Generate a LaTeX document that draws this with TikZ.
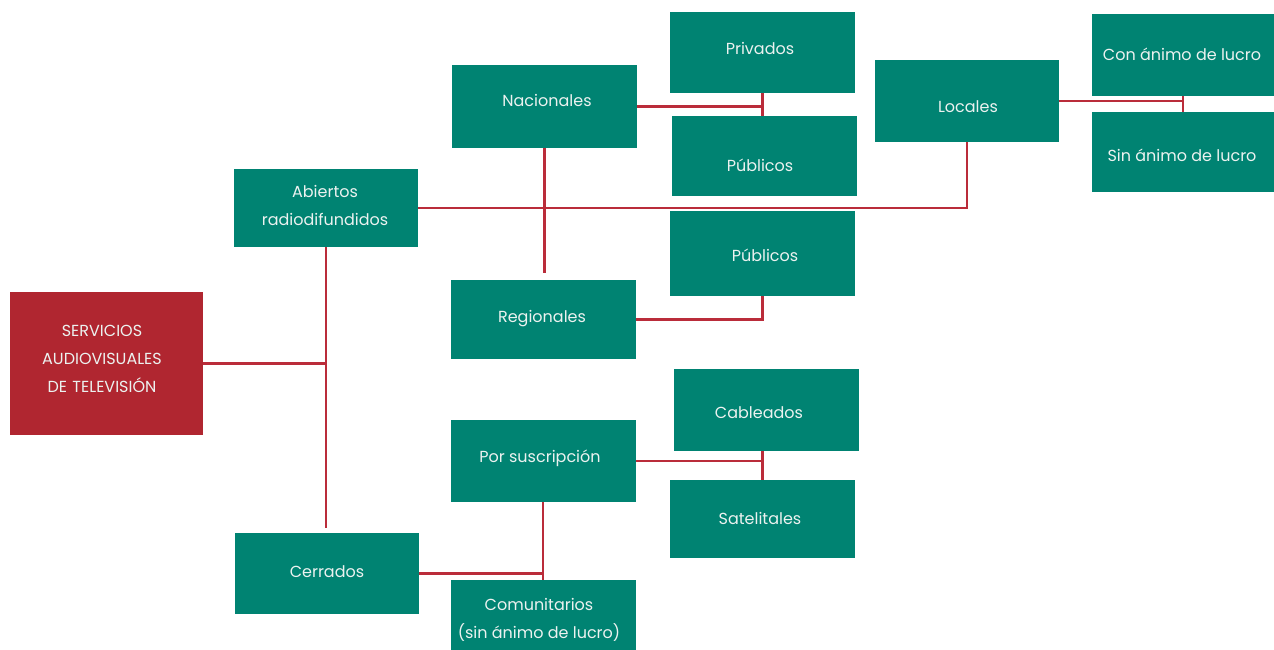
\documentclass[tikz,border=0pt]{standalone}
\usepackage{fontspec}
\setmainfont{Poppins}
\usetikzlibrary{calc}
\definecolor{teal1}{RGB}{0,131,114}
\definecolor{red1}{RGB}{176,38,48}
\definecolor{line1}{RGB}{186,44,58}
\definecolor{txt}{RGB}{236,242,240}
\tikzset{
  box/.style={fill=teal1, draw=none, inner sep=0pt},
  redbox/.style={fill=red1, draw=none, inner sep=0pt},
  lbl/.style={text=txt, font=\fontsize{16}{28}\selectfont, align=center, inner sep=0pt},
  conn/.style={draw=line1, line width=2.4pt}
}
\begin{document}
\begin{tikzpicture}[x=1pt,y=-1pt]
\useasboundingbox (0,0) rectangle (1274,650);
% boxes: center and size in px
\node[redbox, minimum width=193pt, minimum height=143pt] (serv) at (106.5,363.5) {};
\node[box, minimum width=184pt, minimum height=78pt] (abi) at (326,208) {};
\node[box, minimum width=184pt, minimum height=81pt] (cer) at (327,573.5) {};
\node[box, minimum width=185pt, minimum height=83pt] (nac) at (544.5,106.5) {};
\node[box, minimum width=185pt, minimum height=79pt] (reg) at (543.5,319.5) {};
\node[box, minimum width=185pt, minimum height=81pt] (priv) at (762.5,52.5) {};
\node[box, minimum width=185pt, minimum height=80pt] (pub1) at (764.5,156) {};
\node[box, minimum width=185pt, minimum height=85pt] (pub2) at (762.5,253.5) {};
\node[box, minimum width=184pt, minimum height=82pt] (loc) at (967,101) {};
\node[box, minimum width=182pt, minimum height=82pt] (con) at (1183,55) {};
\node[box, minimum width=182pt, minimum height=80pt] (sin) at (1183,152) {};
\node[box, minimum width=185pt, minimum height=82pt] (sus) at (543,461) {};
\node[box, minimum width=185pt, minimum height=80pt] (com) at (543.5,620) {};
\node[box, minimum width=185pt, minimum height=82pt] (cab) at (766.5,410) {};
\node[box, minimum width=185pt, minimum height=78pt] (sat) at (762.5,519) {};
% labels
\node[lbl, text width=190pt] (tserv) at (102,359) {SERVICIOS\\AUDIOVISUALES\\DE TELEVISIÓN};
\node[lbl] (tabi) at (325,205) {Abiertos\\radiodifundidos};
\node[lbl] (tcer) at (327,572) {Cerrados};
\node[lbl] (tnac) at (547,100) {Nacionales};
\node[lbl] (treg) at (542,319) {Regionales};
\node[lbl] (tpriv) at (760,48) {Privados};
\node[lbl] (tpub1) at (760,165) {Públicos};
\node[lbl] (tpub2) at (765,255) {Públicos};
\node[lbl] (tloc) at (968,107) {Locales};
\node[lbl] (tcon) at (1182,54) {Con ánimo de lucro};
\node[lbl] (tsin) at (1182,155) {Sin ánimo de lucro};
\node[lbl] (tsus) at (540,458) {Por suscripción};
\node[lbl] (tcom) at (539,620) {Comunitarios\\(sin ánimo de lucro)};
\node[lbl] (tcab) at (759,413) {Cableados};
\node[lbl] (tsat) at (760,518) {Satelitales};
% connectors
\coordinate (trunkend) at ($(cer.north)+(0,-5)$);
\draw[conn] (abi.south) -- (abi.south |- trunkend);
\draw[conn] (serv.east) -- (serv.east -| abi.south);
\draw[conn] (abi.east) -| (loc.south);
\coordinate (nacend) at ($(reg.north)+(0,-7)$);
\draw[conn] (nac.south) -- (nac.south |- nacend);
\draw[conn] (nac.east) -- (nac.east -| priv.south);
\draw[conn] (priv.south) -- (pub1.north -| priv.south);
\draw[conn] (reg.east) -| (pub2.south);
\draw[conn] (loc.east) -- (loc.east -| con.south);
\draw[conn] (con.south) -- (sin.north);
\draw[conn] (sus.east) -- (sus.east -| sat.north);
\draw[conn] (sat.north) -- (sat.north |- cab.south);
\draw[conn] (sus.south) -- (sus.south |- com.north);
\draw[conn] (cer.east) -- (cer.east -| sus.south);
\end{tikzpicture}
\end{document}
